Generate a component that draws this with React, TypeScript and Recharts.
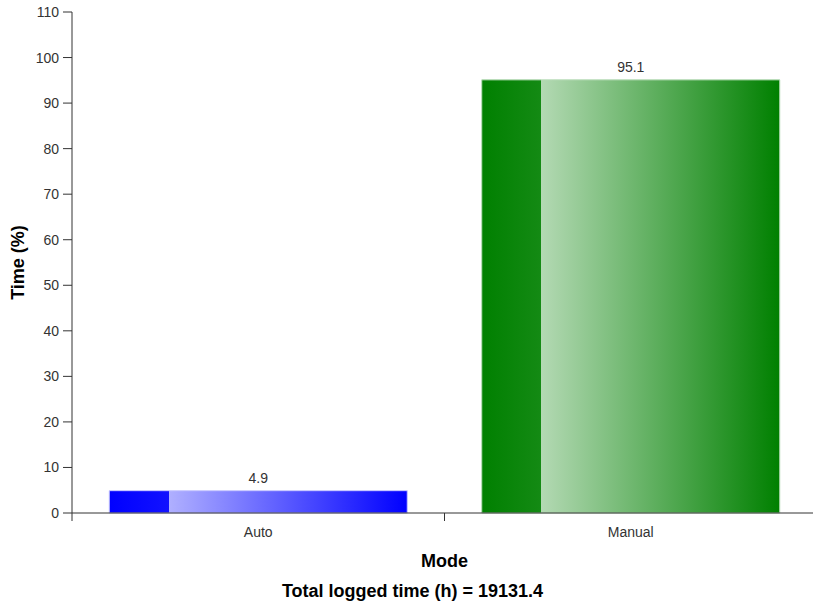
import React from 'react';
import { BarChart, Bar, XAxis, YAxis, Cell, LabelList, Label } from 'recharts';

const categories = ['Auto', 'Manual'];
const timePercent = [4.9, 95.1];
const yTicks = [0, 10, 20, 30, 40, 50, 60, 70, 80, 90, 100, 110];
const totalLoggedHours = 19131.4;

const gradients = [
  { id: 'gradAuto', dark: '#0000ff', mid: '#1212ff', light: '#b0b0ff', stroke: '#c8c8ff' },
  { id: 'gradManual', dark: '#008000', mid: '#148a14', light: '#b3d9b3', stroke: '#b8dcb8' },
];

const data = categories.map((c, i) => ({ mode: c, value: timePercent[i] }));

const FONT = '"Liberation Sans", Arial, sans-serif';
const X_TICK_SIZE = 8;
const X_TICK_MARGIN = 6;

const XTick = (props: any) => {
  const { x, y, payload, index, visibleTicksCount } = props;
  const off = payload && typeof payload.offset === 'number' ? payload.offset : 0;
  const axisY = y - X_TICK_SIZE - X_TICK_MARGIN;
  const isLast = index === visibleTicksCount - 1;
  return (
    <g>
      <line x1={x - off} x2={x - off} y1={axisY} y2={axisY + X_TICK_SIZE} stroke="#333" strokeWidth={1} />
      {isLast && (
        <line x1={x + off} x2={x + off} y1={axisY} y2={axisY + X_TICK_SIZE} stroke="#333" strokeWidth={1} />
      )}
      <text x={x} y={y} dy="0.71em" textAnchor="middle" fill="#333" fontSize={14} fontFamily={FONT}>
        {payload.value}
      </text>
    </g>
  );
};

export default function App() {
  return (
    <div style={{ position: 'absolute', left: 0, top: 0, width: 813, height: 608, overflow: 'hidden', fontFamily: FONT }}>
      <BarChart
        width={817}
        height={575}
        data={data}
        margin={{ top: 12, right: 0, bottom: 6, left: 8 }}
        barCategoryGap="10%"
      >
        <defs>
          {gradients.map((g) => (
            <linearGradient key={g.id} id={g.id} x1="0" y1="0" x2="1" y2="0">
              <stop offset="0" stopColor={g.dark} />
              <stop offset="0.2" stopColor={g.mid} />
              <stop offset="0.2" stopColor={g.light} />
              <stop offset="1" stopColor={g.dark} />
            </linearGradient>
          ))}
        </defs>
        <XAxis
          dataKey="mode"
          height={56}
          axisLine={{ stroke: '#333' }}
          tickLine={false}
          tickSize={X_TICK_SIZE}
          tickMargin={X_TICK_MARGIN}
          tick={<XTick />}
          interval={0}
        >
          <Label
            value="Mode"
            position="insideBottom"
            offset={2}
            style={{ fontSize: 18, fontWeight: 'bold', fill: '#000', fontFamily: FONT }}
          />
        </XAxis>
        <YAxis
          type="number"
          domain={[0, 110]}
          ticks={yTicks}
          width={64}
          axisLine={{ stroke: '#333' }}
          tickLine={{ stroke: '#333' }}
          tickSize={9}
          tickMargin={4}
          tick={{ fontSize: 14, fill: '#333', fontFamily: FONT }}
        >
          <Label
            value="Time (%)"
            angle={-90}
            position="insideLeft"
            offset={10}
            style={{ fontSize: 18, fontWeight: 'bold', fill: '#000', textAnchor: 'middle', fontFamily: FONT }}
          />
        </YAxis>
        <Bar dataKey="value" isAnimationActive={false}>
          {data.map((d, i) => (
            <Cell key={d.mode} fill={`url(#${gradients[i].id})`} stroke={gradients[i].stroke} strokeWidth={1} />
          ))}
          <LabelList dataKey="value" position="top" offset={8} style={{ fontSize: 14, fill: '#333', fontFamily: FONT }} />
        </Bar>
      </BarChart>
      <div
        style={{
          position: 'absolute',
          left: 0,
          top: 581,
          width: 825,
          textAlign: 'center',
          fontSize: 18,
          lineHeight: '20px',
          fontWeight: 'bold',
          color: '#000',
          fontFamily: FONT,
        }}
      >
        Total logged time (h) = {totalLoggedHours}
      </div>
    </div>
  );
}
